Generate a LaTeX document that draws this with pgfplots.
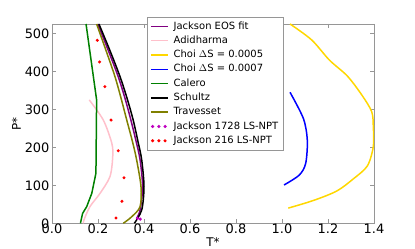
\documentclass[border=0pt]{standalone}
\usepackage{pgfplots}
\pgfplotsset{compat=1.18}
\usepackage{fontspec}
\setmainfont{DejaVu Sans}
\definecolor{axgray}{RGB}{150,150,150}
\definecolor{cpurple}{RGB}{128,0,128}
\definecolor{cpink}{RGB}{255,192,203}
\definecolor{cgold}{RGB}{255,215,0}
\definecolor{cblue}{RGB}{0,0,255}
\definecolor{cgreen}{RGB}{0,128,0}
\definecolor{colive}{RGB}{128,128,0}
\definecolor{cmag}{RGB}{191,0,191}
\pgfplotsset{dotlegend/.style={legend image code/.code={\draw[##1] plot coordinates {(0.06cm,0cm)(0.28cm,0cm)(0.5cm,0cm)};}}}
\begin{document}
\begin{tikzpicture}
\useasboundingbox (0,0) rectangle (415bp,249bp);
\begin{axis}[
  at={(52bp,25.7bp)}, anchor=south west,
  scale only axis, width=322bp, height=199.3bp,
  xmin=0, xmax=1.4, ymin=0, ymax=525,
  xtick={0,0.2,0.4,0.6,0.8,1.0,1.2,1.4},
  xticklabels={0.0,0.2,0.4,0.6,0.8,1.0,1.2,1.4},
  ytick={0,100,200,300,400,500},
  axis line style={axgray},
  every tick/.style={axgray, thin},
  major tick length=4bp,
  tick align=inside,
  tick label style={font=\fontsize{13}{15}\selectfont},
  /pgf/number format/assume math mode=true,
  xticklabel style={yshift=2.5bp},
  yticklabel style={xshift=1bp},
  xlabel={T*}, ylabel={P*},
  label style={font=\fontsize{12}{14}\selectfont},
  xlabel style={yshift=3bp},
  ylabel style={yshift=-3bp},
  legend cell align=left,
  legend style={at={(0.295,1.035)}, anchor=north west, draw=axgray, fill=white,
    font=\fontsize{10}{12}\selectfont, row sep=0pt,
    /tikz/every odd column/.append style={column sep=3bp},
    nodes={inner ysep=2.3bp, inner xsep=2bp, text height=7.5bp, text depth=2.2bp}},
  every axis plot/.append style={line width=1.5bp},
]
\addplot[cpurple, smooth] coordinates {(0.199,525) (0.245,455) (0.288,386) (0.317,330) (0.343,272) (0.366,215) (0.383,167) (0.394,96) (0.383,35) (0.368,13)};
\addlegendentry{Jackson EOS fit}
\addplot[cpink, smooth] coordinates {(0.162,325) (0.223,272) (0.260,211) (0.264,175) (0.252,123) (0.209,79) (0.165,44) (0.139,9) (0.136,0)};
\addlegendentry{Adidharma}
\addplot[cgold, smooth] coordinates {(1.035,525) (1.129,483) (1.206,430) (1.284,388) (1.347,338) (1.390,294) (1.397,254) (1.397,202) (1.371,151) (1.310,117) (1.238,85) (1.136,60) (1.027,40)};
\addlegendentry{Choi $\Delta$S = 0.0005}
\addplot[cblue, smooth] coordinates {(1.035,345) (1.093,276) (1.110,219) (1.103,158) (1.075,127) (1.009,101)};
\addlegendentry{Choi $\Delta$S = 0.0007}
\addplot[cgreen] coordinates {(0.148,525) (0.194,325) (0.191,132) (0.173,79) (0.151,44) (0.133,26) (0.125,4) (0.124,0)};
\addlegendentry{Calero}
\addplot[black, smooth] coordinates {(0.204,525) (0.252,455) (0.296,386) (0.326,330) (0.353,272) (0.374,215) (0.390,167) (0.400,96) (0.390,35) (0.358,0)};
\addlegendentry{Schultz}
\addplot[colive, smooth] coordinates {(0.194,525) (0.235,455) (0.274,386) (0.300,330) (0.325,272) (0.350,215) (0.368,167) (0.387,96) (0.383,44) (0.346,17) (0.310,0)};
\addlegendentry{Travesset}
\addplot[cmag, only marks, mark=*, mark size=0.7bp, dotlegend] coordinates {(0.372,13) (0.384,11)};
\addlegendentry{Jackson 1728 LS-NPT}
\addplot[red, only marks, mark=*, mark size=0.6bp, dotlegend] coordinates {(0.197,482) (0.207,425) (0.230,360) (0.257,272) (0.288,191) (0.313,120) (0.304,58) (0.278,14)};
\addlegendentry{Jackson 216 LS-NPT}
\end{axis}
\end{tikzpicture}
\end{document}
